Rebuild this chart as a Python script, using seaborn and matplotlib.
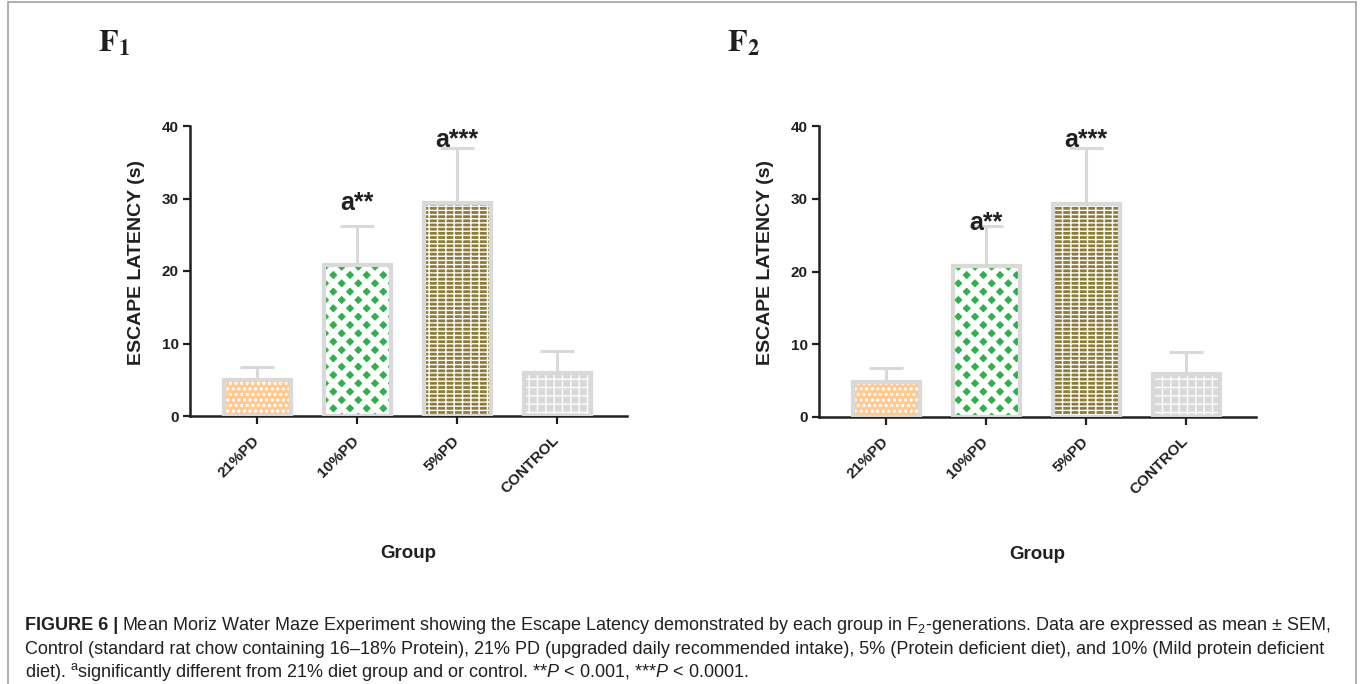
import numpy as np
import pandas as pd
import matplotlib
matplotlib.use("Agg")
import matplotlib.pyplot as plt
import seaborn as sns
from matplotlib.patches import Rectangle

# ---------------- data ----------------
groups = ["21%PD", "10%PD", "5%PD", "CONTROL"]
f1_mean = [4.9, 20.8, 29.4, 5.9]
f1_sem = [1.9, 5.4, 7.6, 3.1]
f2_mean = [4.8, 20.8, 29.3, 5.9]
f2_sem = [1.9, 5.5, 7.7, 3.1]
f1_marks = ["", "a**", "a***", ""]
f1_mark_y = [0, 28.4, 37.1, 0]
f2_marks = ["", "a**", "a***", ""]
f2_mark_y = [0, 25.7, 37.1, 0]
y_ticks = [0, 10, 20, 30, 40]
panel_titles = [r"$\mathbf{F_1}$", r"$\mathbf{F_2}$"]
y_label = "ESCAPE LATENCY (s)"
x_label = "Group"

caption_bold = "FIGURE 6 |"
caption_l1 = (r"Mean Moriz Water Maze Experiment showing the Escape Latency demonstrated by each group in "
              r"F$_{\mathrm{2}}$-generations. Data are expressed as mean ± SEM,")
caption_l2 = ("Control (standard rat chow containing 16–18% Protein), 21% PD (upgraded daily recommended intake), "
              "5% (Protein deficient diet), and 10% (Mild protein deficient")
caption_l3 = (r"diet). ${}^{\mathrm{a}}$significantly different from 21% diet group and or control. "
              r"**$P$ < 0.001, ***$P$ < 0.0001.")

# ---------------- style ----------------
fill_colors = ["#FFC98F", "#2DB24A", "#8C7C36", "#D9D9D9"]
hatch_colors = ["#FFFFFF", "#FFFFFF", "#FFFFFF", "#FFFFFF"]
hatches = ["ooo", "xx", "----||", "++"]
hatch_lw = [0.5, 4.2, 1.0, 1.0]
BORDER = "#D9D9D9"
INK = "#231F20"

sns.set_theme(style="white")
plt.rcParams["font.family"] = ["Liberation Sans", "DejaVu Sans"]
plt.rcParams.update({
    "mathtext.fontset": "custom",
    "mathtext.rm": "Liberation Sans",
    "mathtext.it": "Liberation Sans:italic",
    "mathtext.bf": "Liberation Sans:bold",
    "hatch.linewidth": 1.2,
})

W, H = 1360, 684
fig = plt.figure(figsize=(W / 100, H / 100), dpi=100)
ax1 = fig.add_axes([190 / W, (H - 416) / H, 437 / W, 290 / H])
ax2 = fig.add_axes([819 / W, (H - 417) / H, 437 / W, 291 / H])


def panel(ax, means, sems, marks, mark_y):
    df = pd.DataFrame({"group": groups, "mean": means})
    sns.barplot(data=df, x="group", y="mean", hue="group", palette=fill_colors,
                legend=False, errorbar=None, width=0.67, saturation=1, ax=ax, zorder=2)
    for p, hc, h, lw in zip(list(ax.patches), hatch_colors, hatches, hatch_lw):
        p.set_hatch(h)
        p.set_edgecolor(hc)
        if hasattr(p, "set_hatchcolor"):
            p.set_hatchcolor(hc)
        if hasattr(p, "set_hatch_linewidth"):
            p.set_hatch_linewidth(lw)
        p.set_linewidth(0)
    sns.barplot(data=df, x="group", y="mean", fill=False, color=BORDER, errorbar=None,
                width=0.67, linewidth=3, ax=ax, zorder=3)
    x = np.arange(len(groups))
    ax.errorbar(x, means, yerr=[np.zeros(len(sems)), sems], fmt="none", ecolor=BORDER,
                elinewidth=2.2, capsize=12, capthick=2.2, zorder=1)
    for i, (m, yy) in enumerate(zip(marks, mark_y)):
        if m:
            ax.text(i, yy, m, ha="center", va="baseline", fontsize=18,
                    fontweight="bold", color=INK, zorder=5)
    ax.set_ylim(0, 40)
    ax.set_xlim(-0.67, 3.7)
    ax.set_yticks(y_ticks)
    ax.set_xticks(x)
    ax.set_xticklabels(groups)
    sns.despine(ax=ax)
    for s in ("left", "bottom"):
        ax.spines[s].set_color(INK)
        ax.spines[s].set_linewidth(1.8)
    ax.tick_params(axis="both", colors=INK, direction="out", length=5, width=1.6,
                   labelsize=11, left=True, bottom=True)
    ax.tick_params(axis="x", pad=10, length=6)
    ax.tick_params(axis="y", pad=3)
    for lab in ax.get_xticklabels():
        lab.set_rotation(45)
        lab.set_ha("right")
        lab.set_va("center")
        lab.set_rotation_mode("anchor")
        lab.set_fontweight("bold")
    for lab in ax.get_yticklabels():
        lab.set_fontweight("bold")
    ax.set_ylabel(y_label, fontsize=14, fontweight="bold", color=INK)
    ax.yaxis.set_label_coords(-0.103, 0.53)
    ax.set_xlabel(x_label, fontsize=13.5, fontweight="bold", color=INK)
    ax.xaxis.set_label_coords(0.5, -0.445)


panel(ax1, f1_mean, f1_sem, f1_marks, f1_mark_y)
panel(ax2, f2_mean, f2_sem, f2_marks, f2_mark_y)

fig.text(98 / W, 1 - 52 / H, panel_titles[0], math_fontfamily="stix", fontsize=23,
         va="baseline", color=INK)
fig.text(727 / W, 1 - 52 / H, panel_titles[1], math_fontfamily="stix", fontsize=23,
         va="baseline", color=INK)

# frame
fig.add_artist(Rectangle((7.5 / W, -0.5), (1355.5 - 7.5) / W, 0.5 + (H - 1.5) / H,
                         transform=fig.transFigure, fill=False, edgecolor="#9A9A9A", lw=1.1))

# caption
cap_fs = 13.0
ys = [1 - 630 / H, 1 - 654 / H, 1 - 677 / H]
t1 = fig.text(25 / W, ys[0], caption_bold, fontsize=cap_fs, fontweight="bold",
              color=INK, va="baseline")
fig.canvas.draw()
bb = t1.get_window_extent()
fig.text((bb.x1 + 4) / W, ys[0], caption_l1, fontsize=cap_fs, color=INK, va="baseline")
fig.text(25 / W, ys[1], caption_l2, fontsize=cap_fs, color=INK, va="baseline")
fig.text(25 / W, ys[2], caption_l3, fontsize=cap_fs, color=INK, va="baseline")

fig.savefig("out.png", dpi=100)
